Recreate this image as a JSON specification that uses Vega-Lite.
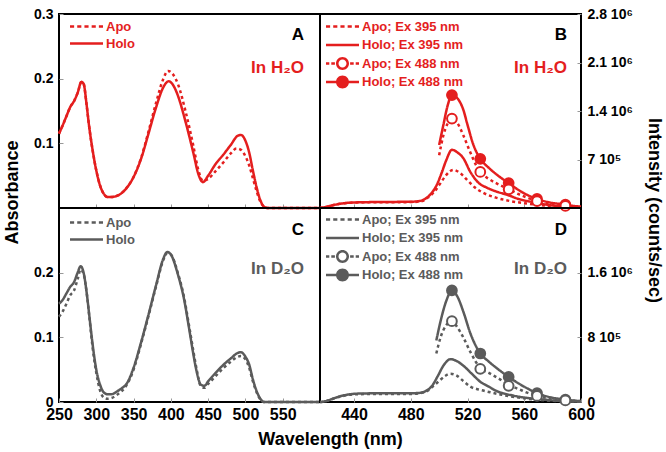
{
  "$schema": "https://vega.github.io/schema/vega-lite/v6.json",
  "background": "white",
  "padding": {"left": 2, "top": 6, "right": 0, "bottom": 2},
  "bounds": "flush",
  "spacing": 0,
  "columns": 2,
  "resolve": {"scale": {"fill": "independent", "shape": "independent", "strokeDash": "independent", "color": "independent"}, "legend": {"shape": "independent", "fill": "independent", "strokeDash": "independent"}},
  "config": {
    "view": {"stroke": "black", "strokeWidth": 2},
    "axis": {"domain": false, "grid": false, "tickSize": -4, "tickColor": "#999999", "tickWidth": 1,
      "labelFont": "Liberation Sans", "labelFontWeight": "bold", "labelColor": "black",
      "titleFont": "Liberation Sans", "titleFontWeight": "bold", "titleFontSize": 18, "titleColor": "black"},
    "axisX": {"labelFontSize": 16, "labelPadding": 8, "labelFlush": false},
    "axisY": {"labelFontSize": 14, "labelPadding": 10},
    "legend": {"orient": "none", "labelFont": "Liberation Sans", "labelFontWeight": "bold", "labelFontSize": 13,
      "symbolSize": 400, "symbolStrokeWidth": 0, "symbolOpacity": 1, "rowPadding": 0, "labelOffset": 9.5, "padding": 0},
    "title": {"anchor": "end", "orient": "top", "frame": "group", "font": "Liberation Sans", "fontSize": 17, "fontWeight": "bold", "color": "black",
      "subtitleFont": "Liberation Sans", "subtitleFontSize": 17, "subtitleFontWeight": "bold"}
  },
  "datasets": {
    "absA": [
      {"s":"Holo","nm":250,"v":0.115},{"s":"Holo","nm":255,"v":0.128},{"s":"Holo","nm":260,"v":0.142},{"s":"Holo","nm":265,"v":0.156},{"s":"Holo","nm":270,"v":0.165},{"s":"Holo","nm":275,"v":0.178},{"s":"Holo","nm":280,"v":0.195},{"s":"Holo","nm":283,"v":0.192},{"s":"Holo","nm":287,"v":0.16},{"s":"Holo","nm":290,"v":0.13},{"s":"Holo","nm":295,"v":0.09},{"s":"Holo","nm":300,"v":0.058},{"s":"Holo","nm":305,"v":0.035},{"s":"Holo","nm":310,"v":0.022},{"s":"Holo","nm":315,"v":0.017},{"s":"Holo","nm":320,"v":0.017},{"s":"Holo","nm":330,"v":0.02},{"s":"Holo","nm":340,"v":0.03},{"s":"Holo","nm":350,"v":0.048},{"s":"Holo","nm":360,"v":0.076},{"s":"Holo","nm":370,"v":0.115},{"s":"Holo","nm":380,"v":0.155},{"s":"Holo","nm":390,"v":0.187},{"s":"Holo","nm":397,"v":0.196},{"s":"Holo","nm":405,"v":0.186},{"s":"Holo","nm":410,"v":0.172},{"s":"Holo","nm":420,"v":0.132},{"s":"Holo","nm":430,"v":0.086},{"s":"Holo","nm":437,"v":0.052},{"s":"Holo","nm":443,"v":0.04},{"s":"Holo","nm":450,"v":0.05},{"s":"Holo","nm":460,"v":0.068},{"s":"Holo","nm":470,"v":0.082},{"s":"Holo","nm":480,"v":0.097},{"s":"Holo","nm":490,"v":0.112},{"s":"Holo","nm":494,"v":0.113},{"s":"Holo","nm":500,"v":0.104},{"s":"Holo","nm":505,"v":0.086},{"s":"Holo","nm":510,"v":0.058},{"s":"Holo","nm":515,"v":0.032},{"s":"Holo","nm":520,"v":0.012},{"s":"Holo","nm":525,"v":0.002},{"s":"Holo","nm":530,"v":0},{"s":"Holo","nm":560,"v":0},{"s":"Holo","nm":600,"v":0},
      {"s":"Apo","nm":250,"v":0.115},{"s":"Apo","nm":255,"v":0.128},{"s":"Apo","nm":260,"v":0.142},{"s":"Apo","nm":265,"v":0.156},{"s":"Apo","nm":270,"v":0.165},{"s":"Apo","nm":275,"v":0.178},{"s":"Apo","nm":280,"v":0.195},{"s":"Apo","nm":283,"v":0.192},{"s":"Apo","nm":287,"v":0.16},{"s":"Apo","nm":290,"v":0.13},{"s":"Apo","nm":295,"v":0.09},{"s":"Apo","nm":300,"v":0.058},{"s":"Apo","nm":305,"v":0.035},{"s":"Apo","nm":310,"v":0.022},{"s":"Apo","nm":315,"v":0.017},{"s":"Apo","nm":320,"v":0.017},{"s":"Apo","nm":330,"v":0.02},{"s":"Apo","nm":340,"v":0.03},{"s":"Apo","nm":350,"v":0.048},{"s":"Apo","nm":360,"v":0.077},{"s":"Apo","nm":370,"v":0.118},{"s":"Apo","nm":380,"v":0.162},{"s":"Apo","nm":390,"v":0.2},{"s":"Apo","nm":396,"v":0.212},{"s":"Apo","nm":402,"v":0.208},{"s":"Apo","nm":410,"v":0.19},{"s":"Apo","nm":420,"v":0.148},{"s":"Apo","nm":430,"v":0.097},{"s":"Apo","nm":437,"v":0.058},{"s":"Apo","nm":443,"v":0.042},{"s":"Apo","nm":450,"v":0.045},{"s":"Apo","nm":460,"v":0.057},{"s":"Apo","nm":470,"v":0.07},{"s":"Apo","nm":480,"v":0.084},{"s":"Apo","nm":488,"v":0.092},{"s":"Apo","nm":494,"v":0.09},{"s":"Apo","nm":500,"v":0.08},{"s":"Apo","nm":505,"v":0.066},{"s":"Apo","nm":510,"v":0.046},{"s":"Apo","nm":515,"v":0.026},{"s":"Apo","nm":520,"v":0.01},{"s":"Apo","nm":525,"v":0.002},{"s":"Apo","nm":530,"v":0},{"s":"Apo","nm":560,"v":0},{"s":"Apo","nm":600,"v":0}
    ],
    "absC": [
      {"s":"Holo","nm":250,"v":0.152},{"s":"Holo","nm":255,"v":0.158},{"s":"Holo","nm":260,"v":0.168},{"s":"Holo","nm":265,"v":0.178},{"s":"Holo","nm":270,"v":0.185},{"s":"Holo","nm":275,"v":0.2},{"s":"Holo","nm":279,"v":0.21},{"s":"Holo","nm":283,"v":0.2},{"s":"Holo","nm":287,"v":0.17},{"s":"Holo","nm":291,"v":0.13},{"s":"Holo","nm":295,"v":0.09},{"s":"Holo","nm":300,"v":0.05},{"s":"Holo","nm":305,"v":0.027},{"s":"Holo","nm":310,"v":0.015},{"s":"Holo","nm":315,"v":0.012},{"s":"Holo","nm":320,"v":0.012},{"s":"Holo","nm":330,"v":0.018},{"s":"Holo","nm":335,"v":0.022},{"s":"Holo","nm":340,"v":0.027},{"s":"Holo","nm":350,"v":0.053},{"s":"Holo","nm":360,"v":0.092},{"s":"Holo","nm":370,"v":0.135},{"s":"Holo","nm":380,"v":0.18},{"s":"Holo","nm":390,"v":0.222},{"s":"Holo","nm":395,"v":0.232},{"s":"Holo","nm":400,"v":0.228},{"s":"Holo","nm":410,"v":0.195},{"s":"Holo","nm":417,"v":0.163},{"s":"Holo","nm":425,"v":0.11},{"s":"Holo","nm":430,"v":0.075},{"s":"Holo","nm":435,"v":0.045},{"s":"Holo","nm":440,"v":0.027},{"s":"Holo","nm":445,"v":0.025},{"s":"Holo","nm":450,"v":0.032},{"s":"Holo","nm":460,"v":0.045},{"s":"Holo","nm":470,"v":0.057},{"s":"Holo","nm":480,"v":0.067},{"s":"Holo","nm":490,"v":0.076},{"s":"Holo","nm":494,"v":0.077},{"s":"Holo","nm":500,"v":0.07},{"s":"Holo","nm":505,"v":0.058},{"s":"Holo","nm":510,"v":0.035},{"s":"Holo","nm":515,"v":0.017},{"s":"Holo","nm":520,"v":0.005},{"s":"Holo","nm":525,"v":0},{"s":"Holo","nm":600,"v":0},
      {"s":"Apo","nm":250,"v":0.132},{"s":"Apo","nm":255,"v":0.14},{"s":"Apo","nm":260,"v":0.152},{"s":"Apo","nm":265,"v":0.165},{"s":"Apo","nm":270,"v":0.172},{"s":"Apo","nm":275,"v":0.19},{"s":"Apo","nm":279,"v":0.205},{"s":"Apo","nm":283,"v":0.198},{"s":"Apo","nm":287,"v":0.17},{"s":"Apo","nm":291,"v":0.128},{"s":"Apo","nm":295,"v":0.085},{"s":"Apo","nm":300,"v":0.045},{"s":"Apo","nm":305,"v":0.018},{"s":"Apo","nm":310,"v":0.007},{"s":"Apo","nm":315,"v":0.005},{"s":"Apo","nm":320,"v":0.006},{"s":"Apo","nm":330,"v":0.013},{"s":"Apo","nm":340,"v":0.025},{"s":"Apo","nm":350,"v":0.05},{"s":"Apo","nm":360,"v":0.09},{"s":"Apo","nm":370,"v":0.133},{"s":"Apo","nm":380,"v":0.178},{"s":"Apo","nm":390,"v":0.22},{"s":"Apo","nm":395,"v":0.23},{"s":"Apo","nm":400,"v":0.228},{"s":"Apo","nm":410,"v":0.197},{"s":"Apo","nm":417,"v":0.166},{"s":"Apo","nm":425,"v":0.114},{"s":"Apo","nm":430,"v":0.08},{"s":"Apo","nm":435,"v":0.048},{"s":"Apo","nm":440,"v":0.025},{"s":"Apo","nm":445,"v":0.022},{"s":"Apo","nm":450,"v":0.028},{"s":"Apo","nm":460,"v":0.04},{"s":"Apo","nm":470,"v":0.052},{"s":"Apo","nm":480,"v":0.062},{"s":"Apo","nm":490,"v":0.07},{"s":"Apo","nm":494,"v":0.071},{"s":"Apo","nm":500,"v":0.066},{"s":"Apo","nm":505,"v":0.053},{"s":"Apo","nm":510,"v":0.032},{"s":"Apo","nm":515,"v":0.015},{"s":"Apo","nm":520,"v":0.004},{"s":"Apo","nm":525,"v":0},{"s":"Apo","nm":600,"v":0}
    ],
    "emB": [
      {"s":"Holo; Ex 395 nm","nm":416,"v":0},{"s":"Holo; Ex 395 nm","nm":420,"v":15000},{"s":"Holo; Ex 395 nm","nm":425,"v":40000},{"s":"Holo; Ex 395 nm","nm":430,"v":60000},{"s":"Holo; Ex 395 nm","nm":440,"v":80000},{"s":"Holo; Ex 395 nm","nm":460,"v":87000},{"s":"Holo; Ex 395 nm","nm":480,"v":90000},{"s":"Holo; Ex 395 nm","nm":486,"v":100000},{"s":"Holo; Ex 395 nm","nm":490,"v":130000},{"s":"Holo; Ex 395 nm","nm":494,"v":200000},{"s":"Holo; Ex 395 nm","nm":498,"v":320000},{"s":"Holo; Ex 395 nm","nm":502,"v":520000},{"s":"Holo; Ex 395 nm","nm":505,"v":690000},{"s":"Holo; Ex 395 nm","nm":509,"v":840000},{"s":"Holo; Ex 395 nm","nm":513,"v":800000},{"s":"Holo; Ex 395 nm","nm":517,"v":720000},{"s":"Holo; Ex 395 nm","nm":522,"v":520000},{"s":"Holo; Ex 395 nm","nm":528,"v":360000},{"s":"Holo; Ex 395 nm","nm":534,"v":290000},{"s":"Holo; Ex 395 nm","nm":540,"v":240000},{"s":"Holo; Ex 395 nm","nm":548,"v":190000},{"s":"Holo; Ex 395 nm","nm":556,"v":130000},{"s":"Holo; Ex 395 nm","nm":566,"v":85000},{"s":"Holo; Ex 395 nm","nm":575,"v":50000},{"s":"Holo; Ex 395 nm","nm":585,"v":25000},{"s":"Holo; Ex 395 nm","nm":595,"v":10000},{"s":"Holo; Ex 395 nm","nm":600,"v":5000},
      {"s":"Apo; Ex 395 nm","nm":416,"v":0},{"s":"Apo; Ex 395 nm","nm":420,"v":15000},{"s":"Apo; Ex 395 nm","nm":425,"v":40000},{"s":"Apo; Ex 395 nm","nm":430,"v":60000},{"s":"Apo; Ex 395 nm","nm":440,"v":78000},{"s":"Apo; Ex 395 nm","nm":460,"v":84000},{"s":"Apo; Ex 395 nm","nm":480,"v":85000},{"s":"Apo; Ex 395 nm","nm":488,"v":100000},{"s":"Apo; Ex 395 nm","nm":492,"v":150000},{"s":"Apo; Ex 395 nm","nm":496,"v":220000},{"s":"Apo; Ex 395 nm","nm":500,"v":330000},{"s":"Apo; Ex 395 nm","nm":504,"v":450000},{"s":"Apo; Ex 395 nm","nm":507,"v":520000},{"s":"Apo; Ex 395 nm","nm":510,"v":550000},{"s":"Apo; Ex 395 nm","nm":515,"v":500000},{"s":"Apo; Ex 395 nm","nm":520,"v":400000},{"s":"Apo; Ex 395 nm","nm":525,"v":300000},{"s":"Apo; Ex 395 nm","nm":531,"v":220000},{"s":"Apo; Ex 395 nm","nm":540,"v":150000},{"s":"Apo; Ex 395 nm","nm":550,"v":100000},{"s":"Apo; Ex 395 nm","nm":560,"v":70000},{"s":"Apo; Ex 395 nm","nm":570,"v":45000},{"s":"Apo; Ex 395 nm","nm":580,"v":25000},{"s":"Apo; Ex 395 nm","nm":590,"v":12000},{"s":"Apo; Ex 395 nm","nm":600,"v":5000},
      {"s":"Holo; Ex 488 nm","nm":500,"v":910000},{"s":"Holo; Ex 488 nm","nm":503,"v":1200000},{"s":"Holo; Ex 488 nm","nm":506,"v":1480000},{"s":"Holo; Ex 488 nm","nm":509,"v":1630000},{"s":"Holo; Ex 488 nm","nm":513,"v":1580000},{"s":"Holo; Ex 488 nm","nm":517,"v":1420000},{"s":"Holo; Ex 488 nm","nm":520,"v":1200000},{"s":"Holo; Ex 488 nm","nm":524,"v":920000},{"s":"Holo; Ex 488 nm","nm":529,"v":710000},{"s":"Holo; Ex 488 nm","nm":535,"v":580000},{"s":"Holo; Ex 488 nm","nm":542,"v":460000},{"s":"Holo; Ex 488 nm","nm":549,"v":360000},{"s":"Holo; Ex 488 nm","nm":556,"v":260000},{"s":"Holo; Ex 488 nm","nm":562,"v":190000},{"s":"Holo; Ex 488 nm","nm":569,"v":130000},{"s":"Holo; Ex 488 nm","nm":578,"v":80000},{"s":"Holo; Ex 488 nm","nm":589,"v":50000},{"s":"Holo; Ex 488 nm","nm":595,"v":30000},{"s":"Holo; Ex 488 nm","nm":600,"v":20000},
      {"s":"Apo; Ex 488 nm","nm":500,"v":760000},{"s":"Apo; Ex 488 nm","nm":503,"v":1050000},{"s":"Apo; Ex 488 nm","nm":506,"v":1220000},{"s":"Apo; Ex 488 nm","nm":509,"v":1290000},{"s":"Apo; Ex 488 nm","nm":513,"v":1220000},{"s":"Apo; Ex 488 nm","nm":517,"v":1050000},{"s":"Apo; Ex 488 nm","nm":522,"v":800000},{"s":"Apo; Ex 488 nm","nm":526,"v":620000},{"s":"Apo; Ex 488 nm","nm":529,"v":520000},{"s":"Apo; Ex 488 nm","nm":535,"v":420000},{"s":"Apo; Ex 488 nm","nm":542,"v":340000},{"s":"Apo; Ex 488 nm","nm":549,"v":270000},{"s":"Apo; Ex 488 nm","nm":556,"v":200000},{"s":"Apo; Ex 488 nm","nm":562,"v":150000},{"s":"Apo; Ex 488 nm","nm":569,"v":100000},{"s":"Apo; Ex 488 nm","nm":578,"v":60000},{"s":"Apo; Ex 488 nm","nm":589,"v":30000},{"s":"Apo; Ex 488 nm","nm":600,"v":15000}
    ],
    "mkB": [
      {"s":"Holo; Ex 488 nm","nm":509,"v":1630000},{"s":"Holo; Ex 488 nm","nm":529,"v":710000},{"s":"Holo; Ex 488 nm","nm":549,"v":360000},{"s":"Holo; Ex 488 nm","nm":569,"v":130000},{"s":"Holo; Ex 488 nm","nm":589,"v":50000},
      {"s":"Apo; Ex 488 nm","nm":509,"v":1290000},{"s":"Apo; Ex 488 nm","nm":529,"v":520000},{"s":"Apo; Ex 488 nm","nm":549,"v":270000},{"s":"Apo; Ex 488 nm","nm":569,"v":100000},{"s":"Apo; Ex 488 nm","nm":589,"v":30000}
    ],
    "emD": [
      {"s":"Holo; Ex 395 nm","nm":416,"v":0},{"s":"Holo; Ex 395 nm","nm":420,"v":10000},{"s":"Holo; Ex 395 nm","nm":425,"v":40000},{"s":"Holo; Ex 395 nm","nm":430,"v":70000},{"s":"Holo; Ex 395 nm","nm":437,"v":95000},{"s":"Holo; Ex 395 nm","nm":445,"v":105000},{"s":"Holo; Ex 395 nm","nm":460,"v":108000},{"s":"Holo; Ex 395 nm","nm":480,"v":108000},{"s":"Holo; Ex 395 nm","nm":487,"v":115000},{"s":"Holo; Ex 395 nm","nm":491,"v":140000},{"s":"Holo; Ex 395 nm","nm":495,"v":200000},{"s":"Holo; Ex 395 nm","nm":499,"v":320000},{"s":"Holo; Ex 395 nm","nm":503,"v":450000},{"s":"Holo; Ex 395 nm","nm":508,"v":530000},{"s":"Holo; Ex 395 nm","nm":512,"v":510000},{"s":"Holo; Ex 395 nm","nm":517,"v":450000},{"s":"Holo; Ex 395 nm","nm":523,"v":350000},{"s":"Holo; Ex 395 nm","nm":529,"v":250000},{"s":"Holo; Ex 395 nm","nm":535,"v":190000},{"s":"Holo; Ex 395 nm","nm":540,"v":140000},{"s":"Holo; Ex 395 nm","nm":552,"v":80000},{"s":"Holo; Ex 395 nm","nm":560,"v":55000},{"s":"Holo; Ex 395 nm","nm":568,"v":40000},{"s":"Holo; Ex 395 nm","nm":580,"v":20000},{"s":"Holo; Ex 395 nm","nm":590,"v":10000},{"s":"Holo; Ex 395 nm","nm":600,"v":5000},
      {"s":"Apo; Ex 395 nm","nm":416,"v":0},{"s":"Apo; Ex 395 nm","nm":420,"v":10000},{"s":"Apo; Ex 395 nm","nm":425,"v":40000},{"s":"Apo; Ex 395 nm","nm":430,"v":65000},{"s":"Apo; Ex 395 nm","nm":440,"v":95000},{"s":"Apo; Ex 395 nm","nm":460,"v":100000},{"s":"Apo; Ex 395 nm","nm":480,"v":100000},{"s":"Apo; Ex 395 nm","nm":487,"v":110000},{"s":"Apo; Ex 395 nm","nm":492,"v":140000},{"s":"Apo; Ex 395 nm","nm":496,"v":200000},{"s":"Apo; Ex 395 nm","nm":500,"v":260000},{"s":"Apo; Ex 395 nm","nm":504,"v":320000},{"s":"Apo; Ex 395 nm","nm":508,"v":350000},{"s":"Apo; Ex 395 nm","nm":512,"v":330000},{"s":"Apo; Ex 395 nm","nm":517,"v":260000},{"s":"Apo; Ex 395 nm","nm":522,"v":190000},{"s":"Apo; Ex 395 nm","nm":529,"v":150000},{"s":"Apo; Ex 395 nm","nm":536,"v":120000},{"s":"Apo; Ex 395 nm","nm":544,"v":90000},{"s":"Apo; Ex 395 nm","nm":552,"v":65000},{"s":"Apo; Ex 395 nm","nm":560,"v":45000},{"s":"Apo; Ex 395 nm","nm":568,"v":30000},{"s":"Apo; Ex 395 nm","nm":580,"v":15000},{"s":"Apo; Ex 395 nm","nm":590,"v":8000},{"s":"Apo; Ex 395 nm","nm":600,"v":4000},
      {"s":"Holo; Ex 488 nm","nm":498,"v":760000},{"s":"Holo; Ex 488 nm","nm":501,"v":1000000},{"s":"Holo; Ex 488 nm","nm":505,"v":1250000},{"s":"Holo; Ex 488 nm","nm":509,"v":1380000},{"s":"Holo; Ex 488 nm","nm":513,"v":1300000},{"s":"Holo; Ex 488 nm","nm":517,"v":1120000},{"s":"Holo; Ex 488 nm","nm":522,"v":850000},{"s":"Holo; Ex 488 nm","nm":529,"v":600000},{"s":"Holo; Ex 488 nm","nm":535,"v":500000},{"s":"Holo; Ex 488 nm","nm":542,"v":400000},{"s":"Holo; Ex 488 nm","nm":549,"v":310000},{"s":"Holo; Ex 488 nm","nm":556,"v":230000},{"s":"Holo; Ex 488 nm","nm":562,"v":170000},{"s":"Holo; Ex 488 nm","nm":569,"v":110000},{"s":"Holo; Ex 488 nm","nm":578,"v":60000},{"s":"Holo; Ex 488 nm","nm":589,"v":30000},{"s":"Holo; Ex 488 nm","nm":600,"v":10000},
      {"s":"Apo; Ex 488 nm","nm":498,"v":600000},{"s":"Apo; Ex 488 nm","nm":501,"v":800000},{"s":"Apo; Ex 488 nm","nm":505,"v":950000},{"s":"Apo; Ex 488 nm","nm":509,"v":1000000},{"s":"Apo; Ex 488 nm","nm":513,"v":920000},{"s":"Apo; Ex 488 nm","nm":517,"v":800000},{"s":"Apo; Ex 488 nm","nm":522,"v":620000},{"s":"Apo; Ex 488 nm","nm":529,"v":420000},{"s":"Apo; Ex 488 nm","nm":535,"v":360000},{"s":"Apo; Ex 488 nm","nm":542,"v":290000},{"s":"Apo; Ex 488 nm","nm":549,"v":210000},{"s":"Apo; Ex 488 nm","nm":556,"v":160000},{"s":"Apo; Ex 488 nm","nm":562,"v":115000},{"s":"Apo; Ex 488 nm","nm":569,"v":75000},{"s":"Apo; Ex 488 nm","nm":578,"v":45000},{"s":"Apo; Ex 488 nm","nm":589,"v":20000},{"s":"Apo; Ex 488 nm","nm":600,"v":10000}
    ],
    "mkD": [
      {"s":"Holo; Ex 488 nm","nm":509,"v":1380000},{"s":"Holo; Ex 488 nm","nm":529,"v":600000},{"s":"Holo; Ex 488 nm","nm":549,"v":310000},{"s":"Holo; Ex 488 nm","nm":569,"v":110000},{"s":"Holo; Ex 488 nm","nm":589,"v":30000},
      {"s":"Apo; Ex 488 nm","nm":509,"v":1000000},{"s":"Apo; Ex 488 nm","nm":529,"v":410000},{"s":"Apo; Ex 488 nm","nm":549,"v":200000},{"s":"Apo; Ex 488 nm","nm":569,"v":75000},{"s":"Apo; Ex 488 nm","nm":589,"v":20000}
    ]
  },
  "concat": [
    {
      "width": 261, "height": 194,
      "title": {"text": "A", "subtitle": "In H₂O", "subtitleColor": "#e41e1e", "offset": -70, "subtitlePadding": 16, "dx": -16},
      "layer": [
        {"data": {"name": "absA"},
         "mark": {"type": "line", "color": "#e41e1e", "strokeWidth": 2.5, "interpolate": "monotone"},
         "encoding": {
           "x": {"field": "nm", "type": "quantitative", "scale": {"domain": [250, 600], "nice": false}, "axis": {"values": [300, 350, 400, 450, 500, 550], "labels": false, "title": null}},
           "y": {"field": "v", "type": "quantitative", "scale": {"domain": [0, 0.3], "nice": false}, "axis": {"values": [0.1, 0.2, 0.3], "format": ".1f", "title": "Absorbance", "titleY": 178, "titlePadding": 12}},
           "strokeDash": {"field": "s", "type": "nominal", "scale": {"domain": ["Holo", "Apo"], "range": [[1, 0], [3, 3]]}, "legend": null}
         }},
        {"data": {"name": "absA"},
         "mark": {"type": "point", "filled": true, "color": "#e41e1e", "opacity": 0},
         "encoding": {
           "x": {"field": "nm", "type": "quantitative"},
           "y": {"field": "v", "type": "quantitative"},
           "shape": {"field": "s", "type": "nominal", "scale": {"domain": ["Apo", "Holo"], "range": [
             "M-1.65,-0.13h0.4125v0.26h-0.4125z M-0.928,-0.13h0.4125v0.26h-0.4125z M-0.206,-0.13h0.4125v0.26h-0.4125z M0.516,-0.13h0.4125v0.26h-0.4125z M1.2375,-0.13h0.4125v0.26h-0.4125z",
             "M-1.65,-0.13H1.65V0.13H-1.65Z"]},
             "legend": {"legendX": 17.5, "legendY": 2.5, "rowPadding": 0, "labelColor": "#e41e1e", "symbolOpacity": 1, "symbolFillColor": "#e41e1e", "title": null}}
         }}
      ]
    },
    {
      "width": 261, "height": 194,
      "title": {"text": "B", "subtitle": "In H₂O", "subtitleColor": "#e41e1e", "offset": -70, "subtitlePadding": 16, "dx": -14},
      "layer": [
        {"data": {"name": "emB"},
         "mark": {"type": "line", "color": "#e41e1e", "strokeWidth": 2.5, "interpolate": "monotone"},
         "encoding": {
           "x": {"field": "nm", "type": "quantitative", "scale": {"domain": [416, 600], "nice": false}, "axis": {"values": [440, 480, 520, 560], "labels": false, "title": null}},
           "y": {"field": "v", "type": "quantitative", "scale": {"domain": [0, 2800000], "nice": false}, "axis": {"orient": "right", "values": [700000, 1400000, 2100000, 2800000],
             "labelExpr": "datum.value == 0 ? '0' : datum.value < 1000000 ? format(datum.value/100000, 'd') + ' 10⁵' : format(datum.value/1000000, '.1f') + ' 10⁶'",
             "title": "Intensity (counts/sec)", "titleY": 196, "titlePadding": 12}},
           "strokeDash": {"field": "s", "type": "nominal", "scale": {"domain": ["Holo; Ex 395 nm", "Apo; Ex 395 nm", "Holo; Ex 488 nm", "Apo; Ex 488 nm"], "range": [[1, 0], [3, 3], [1, 0], [3, 3]]}, "legend": null}
         }},
        {"data": {"name": "mkB"},
         "mark": {"type": "point", "shape": "circle", "filled": true, "size": 95, "stroke": "#e41e1e", "strokeWidth": 2, "opacity": 1},
         "encoding": {
           "x": {"field": "nm", "type": "quantitative"},
           "y": {"field": "v", "type": "quantitative"},
           "fill": {"field": "s", "type": "nominal", "scale": {"domain": ["Apo; Ex 488 nm", "Holo; Ex 488 nm"], "range": ["white", "#e41e1e"]}, "legend": null}
         }},
        {"data": {"name": "emB"},
         "mark": {"type": "point", "filled": true, "color": "#e41e1e", "opacity": 0},
         "encoding": {
           "x": {"field": "nm", "type": "quantitative"},
           "y": {"field": "v", "type": "quantitative"},
           "shape": {"field": "s", "type": "nominal", "scale": {"domain": ["Apo; Ex 395 nm", "Holo; Ex 395 nm", "Apo; Ex 488 nm", "Holo; Ex 488 nm"], "range": [
             "M-1.65,-0.13h0.4125v0.26h-0.4125z M-0.928,-0.13h0.4125v0.26h-0.4125z M-0.206,-0.13h0.4125v0.26h-0.4125z M0.516,-0.13h0.4125v0.26h-0.4125z M1.2375,-0.13h0.4125v0.26h-0.4125z",
             "M-1.65,-0.13H1.65V0.13H-1.65Z",
             "M-1.65,-0.13h0.33v0.26h-0.33z M-1.12,-0.13h0.36v0.26h-0.36z M0.76,-0.13h0.36v0.26h-0.36z M1.32,-0.13h0.33v0.26h-0.33z M0.65,0A0.65,0.65 0 1 1 -0.65,0A0.65,0.65 0 1 1 0.65,0Z M0.4,0A0.4,0.4 0 1 0 -0.4,0A0.4,0.4 0 1 0 0.4,0Z",
             "M-1.65,-0.13H1.65V0.13H-1.65Z M0.65,0A0.65,0.65 0 1 1 -0.65,0A0.65,0.65 0 1 1 0.65,0Z"]},
             "legend": {"legendX": 12.5, "legendY": 2.5, "rowPadding": 1.5, "labelColor": "#e41e1e", "symbolOpacity": 1, "symbolFillColor": "#e41e1e", "title": null}}
         }}
      ]
    },
    {
      "width": 261, "height": 194,
      "title": {"text": "C", "subtitle": "In D₂O", "subtitleColor": "#5b5b5b", "offset": -70, "subtitlePadding": 22, "dx": -16},
      "layer": [
        {"data": {"name": "absC"},
         "mark": {"type": "line", "color": "#5b5b5b", "strokeWidth": 2.5, "interpolate": "monotone"},
         "encoding": {
           "x": {"field": "nm", "type": "quantitative", "scale": {"domain": [250, 600], "nice": false}, "axis": {"values": [250, 300, 350, 400, 450, 500, 550], "title": "Wavelength (nm)", "titleX": 271, "titlePadding": 8}},
           "y": {"field": "v", "type": "quantitative", "scale": {"domain": [0, 0.3], "nice": false}, "axis": {"values": [0, 0.1, 0.2], "format": ".1~f", "title": null}},
           "strokeDash": {"field": "s", "type": "nominal", "scale": {"domain": ["Holo", "Apo"], "range": [[1, 0], [3, 3]]}, "legend": null}
         }},
        {"data": {"name": "absC"},
         "mark": {"type": "point", "filled": true, "color": "#5b5b5b", "opacity": 0},
         "encoding": {
           "x": {"field": "nm", "type": "quantitative"},
           "y": {"field": "v", "type": "quantitative"},
           "shape": {"field": "s", "type": "nominal", "scale": {"domain": ["Apo", "Holo"], "range": [
             "M-1.65,-0.13h0.4125v0.26h-0.4125z M-0.928,-0.13h0.4125v0.26h-0.4125z M-0.206,-0.13h0.4125v0.26h-0.4125z M0.516,-0.13h0.4125v0.26h-0.4125z M1.2375,-0.13h0.4125v0.26h-0.4125z",
             "M-1.65,-0.13H1.65V0.13H-1.65Z"]},
             "legend": {"legendX": 17.5, "legendY": 4.5, "rowPadding": 0, "labelColor": "#5b5b5b", "symbolOpacity": 1, "symbolFillColor": "#5b5b5b", "title": null}}
         }}
      ]
    },
    {
      "width": 261, "height": 194,
      "title": {"text": "D", "subtitle": "In D₂O", "subtitleColor": "#5b5b5b", "offset": -70, "subtitlePadding": 22, "dx": -14},
      "layer": [
        {"data": {"name": "emD"},
         "mark": {"type": "line", "color": "#5b5b5b", "strokeWidth": 2.5, "interpolate": "monotone"},
         "encoding": {
           "x": {"field": "nm", "type": "quantitative", "scale": {"domain": [416, 600], "nice": false}, "axis": {"values": [440, 480, 520, 560, 600], "title": null}},
           "y": {"field": "v", "type": "quantitative", "scale": {"domain": [0, 2400000], "nice": false}, "axis": {"orient": "right", "values": [0, 800000, 1600000],
             "labelExpr": "datum.value == 0 ? '0' : datum.value < 1000000 ? format(datum.value/100000, 'd') + ' 10⁵' : format(datum.value/1000000, '.1f') + ' 10⁶'",
             "title": null}},
           "strokeDash": {"field": "s", "type": "nominal", "scale": {"domain": ["Holo; Ex 395 nm", "Apo; Ex 395 nm", "Holo; Ex 488 nm", "Apo; Ex 488 nm"], "range": [[1, 0], [3, 3], [1, 0], [3, 3]]}, "legend": null}
         }},
        {"data": {"name": "mkD"},
         "mark": {"type": "point", "shape": "circle", "filled": true, "size": 95, "stroke": "#5b5b5b", "strokeWidth": 2, "opacity": 1},
         "encoding": {
           "x": {"field": "nm", "type": "quantitative"},
           "y": {"field": "v", "type": "quantitative"},
           "fill": {"field": "s", "type": "nominal", "scale": {"domain": ["Apo; Ex 488 nm", "Holo; Ex 488 nm"], "range": ["white", "#5b5b5b"]}, "legend": null}
         }},
        {"data": {"name": "emD"},
         "mark": {"type": "point", "filled": true, "color": "#5b5b5b", "opacity": 0},
         "encoding": {
           "x": {"field": "nm", "type": "quantitative"},
           "y": {"field": "v", "type": "quantitative"},
           "shape": {"field": "s", "type": "nominal", "scale": {"domain": ["Apo; Ex 395 nm", "Holo; Ex 395 nm", "Apo; Ex 488 nm", "Holo; Ex 488 nm"], "range": [
             "M-1.65,-0.13h0.4125v0.26h-0.4125z M-0.928,-0.13h0.4125v0.26h-0.4125z M-0.206,-0.13h0.4125v0.26h-0.4125z M0.516,-0.13h0.4125v0.26h-0.4125z M1.2375,-0.13h0.4125v0.26h-0.4125z",
             "M-1.65,-0.13H1.65V0.13H-1.65Z",
             "M-1.65,-0.13h0.33v0.26h-0.33z M-1.12,-0.13h0.36v0.26h-0.36z M0.76,-0.13h0.36v0.26h-0.36z M1.32,-0.13h0.33v0.26h-0.33z M0.65,0A0.65,0.65 0 1 1 -0.65,0A0.65,0.65 0 1 1 0.65,0Z M0.4,0A0.4,0.4 0 1 0 -0.4,0A0.4,0.4 0 1 0 0.4,0Z",
             "M-1.65,-0.13H1.65V0.13H-1.65Z M0.65,0A0.65,0.65 0 1 1 -0.65,0A0.65,0.65 0 1 1 0.65,0Z"]},
             "legend": {"legendX": 12.5, "legendY": 1.5, "rowPadding": 1.5, "labelColor": "#5b5b5b", "symbolOpacity": 1, "symbolFillColor": "#5b5b5b", "title": null}}
         }}
      ]
    }
  ]
}
